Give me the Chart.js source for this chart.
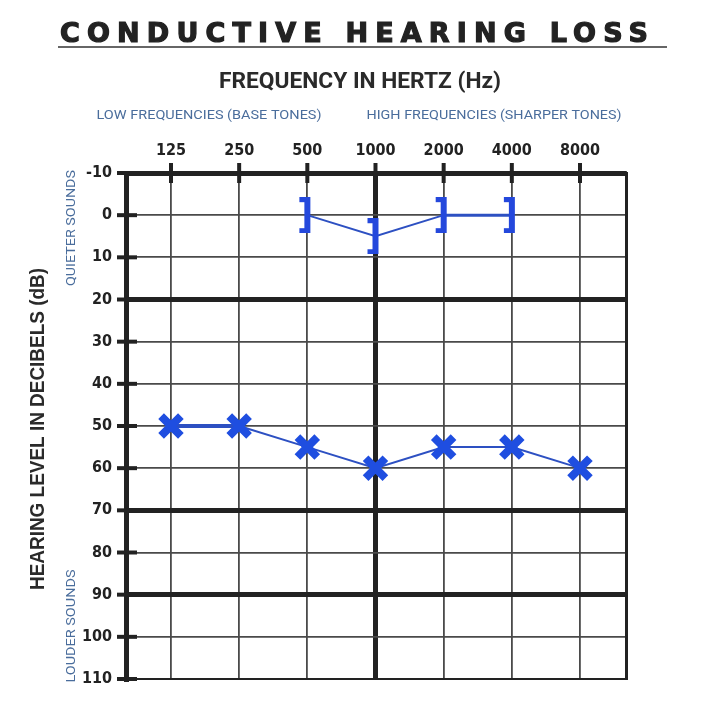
<!DOCTYPE html>
<html>
<head>
<meta charset="utf-8">
<title>Conductive Hearing Loss</title>
<script src="https://cdn.jsdelivr.net/npm/chart.js@4.4.1/dist/chart.umd.min.js"></script>
<style>
  html, body { margin: 0; padding: 0; background: #fff; }
  #wrap { width: 720px; height: 720px; }
</style>
</head>
<body>
<div id="wrap"><canvas id="audiogram" width="720" height="720"></canvas></div>
<script>
// frequencies across the top (Hz)
const freqLabels = ['125', '250', '500', '1000', '2000', '4000', '8000'];
// hearing level ticks (dB)
const levelTicks = [-10, 0, 10, 20, 30, 40, 50, 60, 70, 80, 90, 100, 110];
// air conduction (X) thresholds
const airConduction = [50, 50, 55, 60, 55, 55, 60];
// bone conduction (]) thresholds, null where not tested
const boneConduction = [null, null, 0, 5, 0, 0, null];

const thickLevels = [-10, 20, 70, 90];
const dark = '#222';
const thin = '#4a4a4a';
const markBlue = '#1f4ee0';
const lineBlue = '#2d50c2';
const noteBlue = '#4a6d9c';
const tickFont = { family: '"Liberation Sans Narrow", "DejaVu Sans Condensed", sans-serif', size: 16, weight: 'bold' };

// bracket marker drawn once onto a small canvas
function makeBracket() {
    const c = document.createElement('canvas');
    c.width = 20;
    c.height = 36;
    const g = c.getContext('2d');
    g.fillStyle = '#2448dc';
    g.fillRect(7, 0, 6, 36);     // vertical bar
    g.fillRect(2, 0, 9, 5);      // top serif
    g.fillRect(2, 31, 9, 5);     // bottom serif
    return c;
}
const bracket = makeBracket();

function toPoints(values) {
    return values.map((v, i) => ({ x: i, y: v }));
}

function fitText(ctx, text, cx, cy, width, rotate) {
    const w = ctx.measureText(text).width;
    ctx.save();
    ctx.translate(cx, cy);
    if (rotate) ctx.rotate(-Math.PI / 2);
    ctx.scale(width / w, 1);
    ctx.textAlign = 'center';
    ctx.textBaseline = 'middle';
    ctx.fillText(text, 0, 0);
    ctx.restore();
}

const decor = {
    id: 'decor',
    beforeDatasetsDraw(chart) {
        const { ctx, chartArea: a, scales: { x, y } } = chart;
        ctx.save();
        ctx.strokeStyle = dark;
        ctx.lineWidth = 4;
        // short heavy tick marks across the axes
        freqLabels.forEach((f, i) => {
            const px = x.getPixelForValue(i);
            ctx.beginPath();
            ctx.moveTo(px, a.top - 10);
            ctx.lineTo(px, a.top + 10);
            ctx.stroke();
        });
        levelTicks.forEach(v => {
            const py = y.getPixelForValue(v);
            ctx.beginPath();
            ctx.moveTo(a.left - 9, py);
            ctx.lineTo(a.left + 11, py);
            ctx.stroke();
        });
        ctx.restore();
    },
    afterDraw(chart) {
        const ctx = chart.ctx;
        ctx.save();

        // main title, letter spaced and underlined
        const title = 'CONDUCTIVE HEARING LOSS';
        ctx.font = 'bold 27px "DejaVu Sans"';
        ctx.fillStyle = dark;
        ctx.strokeStyle = dark;
        ctx.lineWidth = 1.2;
        const w0 = ctx.measureText(title).width;
        ctx.letterSpacing = ((588 - w0) / (title.length - 1)) + 'px';
        ctx.textAlign = 'left';
        ctx.textBaseline = 'middle';
        ctx.fillText(title, 60, 35);
        ctx.strokeText(title, 60, 35);
        ctx.letterSpacing = '0px';
        ctx.strokeStyle = '#666';
        ctx.lineWidth = 2;
        ctx.beginPath();
        ctx.moveTo(58, 47);
        ctx.lineTo(667, 47);
        ctx.stroke();

        // axis titles
        ctx.fillStyle = '#2a2a2a';
        ctx.font = 'bold 22px Roboto';
        fitText(ctx, 'FREQUENCY IN HERTZ (Hz)', 360, 82, 282);
        ctx.font = 'bold 21px "Liberation Sans"';
        fitText(ctx, 'HEARING LEVEL IN DECIBELS (dB)', 38, 429, 322, true);

        // side notes
        ctx.fillStyle = noteBlue;
        ctx.font = '13px Roboto';
        fitText(ctx, 'LOW FREQUENCIES (BASE TONES)', 209, 116, 225);
        fitText(ctx, 'HIGH FREQUENCIES (SHARPER TONES)', 494, 116, 255);
        ctx.font = '12px Roboto';
        fitText(ctx, 'QUIETER SOUNDS', 72, 228, 116, true);
        fitText(ctx, 'LOUDER SOUNDS', 72, 626, 113, true);

        ctx.restore();
    }
};

const ctx = document.getElementById('audiogram').getContext('2d');
new Chart(ctx, {
    type: 'line',
    data: {
        datasets: [
            {
                label: 'Air conduction',
                data: toPoints(airConduction),
                borderColor: lineBlue,
                borderWidth: 2,
                segment: {
                    borderWidth: c => c.p0DataIndex === 0 ? 4 : 2
                },
                pointStyle: 'crossRot',
                pointRadius: 14,
                pointBorderWidth: 8,
                pointBorderColor: markBlue,
                pointBackgroundColor: markBlue
            },
            {
                label: 'Bone conduction',
                data: toPoints(boneConduction),
                borderColor: lineBlue,
                borderWidth: 2,
                segment: {
                    borderWidth: c => c.p0DataIndex === 4 ? 3 : 2
                },
                pointStyle: bracket,
                pointRadius: 10
            }
        ]
    },
    options: {
        responsive: false,
        animation: false,
        layout: { padding: 0 },
        plugins: {
            legend: { display: false },
            tooltip: { enabled: false }
        },
        scales: {
            x: {
                type: 'linear',
                position: 'top',
                min: -0.66,
                max: 6.675,
                afterBuildTicks: s => { s.ticks = freqLabels.map((f, i) => ({ value: i })); },
                afterFit: s => { s.height = 173; },
                ticks: {
                    callback: v => freqLabels[v],
                    autoSkip: false,
                    maxRotation: 0,
                    padding: 13,
                    color: dark,
                    font: tickFont
                },
                grid: {
                    drawTicks: false,
                    color: c => c.tick && c.tick.value === 3 ? dark : thin,
                    lineWidth: c => c.tick && c.tick.value === 3 ? 5 : 1.8
                },
                border: { color: dark, width: 5 }
            },
            x2: {
                type: 'linear',
                position: 'bottom',
                min: -0.66,
                max: 6.675,
                afterFit: s => { s.height = 41; },
                ticks: { display: false },
                grid: { display: false },
                border: { color: dark, width: 2 }
            },
            y: {
                type: 'linear',
                position: 'left',
                reverse: true,
                min: -10,
                max: 110,
                afterBuildTicks: s => { s.ticks = levelTicks.map(v => ({ value: v })); },
                afterFit: s => { s.width = 126; },
                ticks: {
                    autoSkip: false,
                    padding: 14,
                    color: dark,
                    font: tickFont
                },
                grid: {
                    drawTicks: false,
                    color: c => thickLevels.includes(c.tick && c.tick.value) ? dark : thin,
                    lineWidth: c => {
                        const v = c.tick && c.tick.value;
                        if (thickLevels.includes(v)) return 5;
                        return v === 110 ? 2 : 1.8;
                    }
                },
                border: { color: dark, width: 5 }
            },
            y2: {
                type: 'linear',
                position: 'right',
                min: -10,
                max: 110,
                afterFit: s => { s.width = 94; },
                ticks: { display: false },
                grid: { display: false },
                border: { color: dark, width: 3 }
            }
        }
    },
    plugins: [decor]
});
</script>
</body>
</html>
